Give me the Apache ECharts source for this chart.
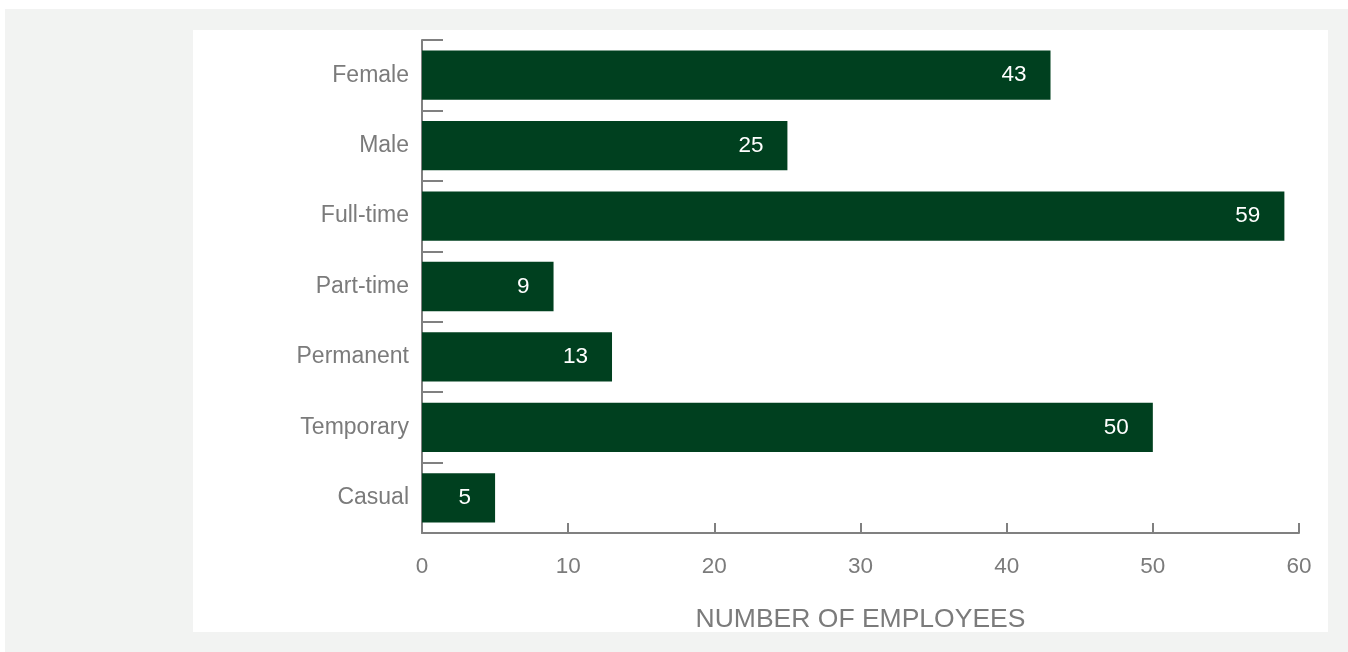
<!DOCTYPE html>
<html>
<head>
<meta charset="utf-8">
<script src="https://cdn.jsdelivr.net/npm/echarts@6/dist/echarts.min.js"></script>
<style>
  html, body { margin: 0; padding: 0; width: 1348px; height: 652px; background: #ffffff; overflow: hidden; }
  #frame { position: absolute; left: 5px; top: 9px; width: 1343px; height: 643px; background: #f2f3f2; }
  #chart { position: absolute; left: 193px; top: 30px; width: 1135px; height: 602px; background: #ffffff; }
</style>
</head>
<body>
<div id="frame"></div>
<div id="chart"></div>
<script>
// Employee breakdown by category
const categories = ['Female', 'Male', 'Full-time', 'Part-time', 'Permanent', 'Temporary', 'Casual'];
const employees = [43, 25, 59, 9, 13, 50, 5];
const axisTicks = [0, 10, 20, 30, 40, 50, 60];

const textGrey = '#7b7b7b';
const axisGrey = '#808080';
const fontFamily = '"Liberation Sans", Arial, sans-serif';

const chart = echarts.init(document.getElementById('chart'));
chart.setOption({
  animation: false,
  grid: { left: 229, right: 29, top: 10, bottom: 99, containLabel: false, outerBoundsMode: 'none' },
  xAxis: {
    type: 'value',
    min: axisTicks[0],
    max: axisTicks[axisTicks.length - 1],
    interval: axisTicks[1] - axisTicks[0],
    name: 'NUMBER OF EMPLOYEES',
    nameLocation: 'middle',
    nameGap: 73,
    nameTextStyle: { color: textGrey, fontSize: 26.5, fontFamily: fontFamily },
    axisLine: { show: true, lineStyle: { color: axisGrey, width: 2 } },
    axisTick: { show: true, inside: true, length: 10, lineStyle: { color: axisGrey, width: 2 } },
    axisLabel: { color: textGrey, fontSize: 22.5, fontFamily: fontFamily, margin: 22 },
    splitLine: { show: false }
  },
  yAxis: {
    type: 'category',
    inverse: true,
    data: categories,
    axisLine: { show: true, lineStyle: { color: axisGrey, width: 2 } },
    axisTick: { show: true, inside: true, length: 21, alignWithLabel: false, lineStyle: { color: axisGrey, width: 2 } },
    axisLabel: { color: textGrey, fontSize: 23, fontFamily: fontFamily, margin: 13 },
    splitLine: { show: false }
  },
  series: [{
    type: 'bar',
    data: employees,
    barCategoryGap: '30%',
    itemStyle: { color: '#00401f' },
    label: {
      show: true,
      position: 'insideRight',
      distance: 24,
      color: '#ffffff',
      fontSize: 22.5,
      fontFamily: fontFamily
    }
  }]
});
</script>
</body>
</html>
